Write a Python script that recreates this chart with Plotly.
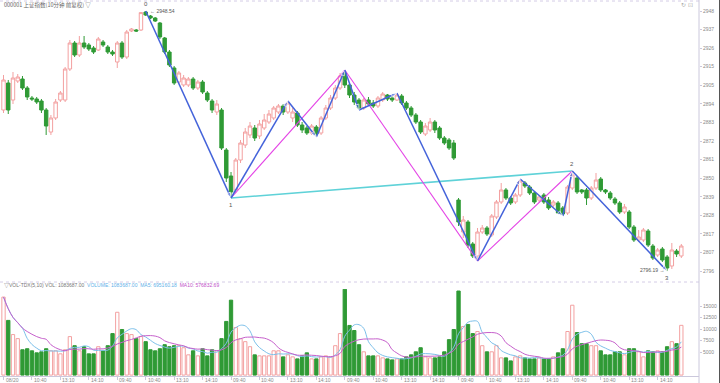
import plotly.graph_objects as go
import pandas as pd

title_text = "000001 上证指数(10分钟 前复权) ▽"

opens = [2890.54, 2906.36, 2896.40, 2907.53, 2908.70, 2903.43, 2897.57, 2896.99, 2895.81, 2890.54,
         2877.65, 2885.86, 2896.40, 2896.40, 2914.56, 2929.79, 2922.76, 2929.79, 2928.62, 2926.86,
         2925.69, 2930.38, 2927.45, 2924.52, 2918.66, 2929.79, 2921.59, 2936.82, 2937.41, 2937.41,
         2947.95, 2945.61, 2944.44, 2941.51, 2932.72, 2924.52, 2915.15, 2906.94, 2905.19, 2905.19,
         2908.70, 2903.43, 2906.94, 2900.50, 2895.81, 2889.37, 2890.54, 2867.11, 2851.88, 2843.68,
         2861.25, 2870.04, 2875.90, 2880.00, 2875.31, 2880.00, 2883.51, 2885.86, 2889.37, 2892.89,
         2889.37, 2885.86, 2888.78, 2881.75, 2880.00, 2877.07, 2880.58, 2877.07, 2885.86, 2891.71,
         2897.57, 2903.43, 2912.22, 2905.19, 2899.33, 2896.40, 2891.71, 2896.40, 2894.64, 2892.89,
         2896.40, 2899.33, 2897.57, 2896.40, 2898.74, 2894.64, 2891.71, 2887.61, 2883.51, 2876.48,
         2878.83, 2883.51, 2880.00, 2874.14, 2872.97, 2871.21, 2837.82, 2819.07, 2824.93, 2812.05,
         2805.02, 2819.07, 2821.42, 2817.32, 2827.86, 2836.65, 2843.68, 2838.99, 2836.65, 2840.75,
         2847.78, 2845.43, 2841.92, 2837.82, 2840.75, 2837.82, 2834.89, 2836.06, 2833.13, 2830.20,
         2844.85, 2850.71, 2843.68, 2843.68, 2838.99, 2844.85, 2850.12, 2843.68, 2841.92, 2838.41,
         2836.06, 2830.79, 2830.79, 2822.00, 2814.39, 2814.39, 2819.66, 2810.87, 2805.60, 2809.12,
         2804.43, 2799.16, 2807.94, 2805.02]

highs = [2911.05, 2908.12, 2912.80, 2911.63, 2910.46, 2904.60, 2898.74, 2898.16, 2896.99, 2891.71,
         2887.61, 2896.99, 2901.67, 2915.73, 2931.55, 2930.96, 2933.89, 2933.89, 2929.79, 2928.03,
         2933.31, 2931.55, 2928.62, 2925.69, 2930.96, 2930.96, 2937.41, 2938.58, 2937.99, 2947.95,
         2948.54, 2946.19, 2945.02, 2942.09, 2933.31, 2925.69, 2916.32, 2913.39, 2911.05, 2909.87,
         2909.87, 2908.12, 2908.12, 2901.67, 2896.99, 2896.40, 2891.71, 2868.28, 2854.22, 2862.42,
         2872.97, 2880.00, 2883.51, 2881.75, 2884.68, 2888.20, 2890.54, 2892.89, 2894.06, 2894.06,
         2895.81, 2891.71, 2889.96, 2883.51, 2881.17, 2882.34, 2881.75, 2887.03, 2893.47, 2899.33,
         2905.19, 2912.22, 2913.97, 2906.36, 2901.09, 2897.57, 2897.57, 2898.16, 2896.40, 2898.74,
         2901.09, 2899.92, 2898.74, 2900.50, 2899.92, 2895.81, 2892.89, 2888.78, 2884.68, 2882.93,
         2885.86, 2884.68, 2881.17, 2875.31, 2874.14, 2872.97, 2838.99, 2828.45, 2826.10, 2813.22,
         2821.42, 2823.17, 2822.59, 2829.62, 2837.82, 2847.78, 2844.85, 2840.16, 2841.92, 2850.12,
         2848.95, 2846.61, 2843.09, 2840.75, 2841.92, 2839.58, 2837.82, 2837.23, 2834.30, 2846.61,
         2854.81, 2851.88, 2844.26, 2844.85, 2846.02, 2853.64, 2851.29, 2844.26, 2843.09, 2839.58,
         2837.23, 2835.48, 2831.96, 2823.17, 2820.25, 2821.42, 2820.83, 2812.05, 2809.70, 2810.29,
         2805.60, 2812.63, 2809.12, 2812.05]

lows = [2888.78, 2888.20, 2894.06, 2906.36, 2902.26, 2896.40, 2895.81, 2894.06, 2888.78, 2875.90,
        2875.90, 2884.68, 2895.23, 2895.23, 2913.39, 2921.59, 2921.59, 2926.28, 2925.10, 2923.35,
        2925.10, 2927.45, 2923.35, 2922.18, 2915.15, 2920.42, 2920.42, 2936.23, 2936.23, 2936.82,
        2945.61, 2943.85, 2942.09, 2932.13, 2923.35, 2915.73, 2905.19, 2905.77, 2904.02, 2904.02,
        2902.26, 2902.26, 2899.92, 2895.23, 2888.78, 2887.61, 2867.11, 2848.36, 2838.99, 2841.92,
        2859.49, 2868.28, 2874.14, 2872.38, 2873.55, 2878.83, 2882.34, 2884.68, 2888.20, 2887.61,
        2888.20, 2883.51, 2880.58, 2877.07, 2875.90, 2875.90, 2874.72, 2875.90, 2884.68, 2890.54,
        2896.40, 2902.26, 2903.43, 2897.57, 2893.47, 2890.54, 2890.54, 2892.89, 2891.71, 2891.71,
        2895.23, 2895.81, 2895.23, 2895.81, 2893.47, 2890.54, 2886.44, 2882.34, 2876.48, 2875.31,
        2877.65, 2877.07, 2872.97, 2870.04, 2867.11, 2861.25, 2822.59, 2815.56, 2809.70, 2803.84,
        2802.09, 2817.90, 2816.73, 2816.15, 2826.69, 2835.48, 2837.82, 2834.89, 2835.48, 2839.58,
        2844.85, 2840.75, 2835.48, 2836.65, 2835.48, 2831.96, 2833.72, 2829.62, 2828.45, 2829.03,
        2843.68, 2841.33, 2841.33, 2834.89, 2837.82, 2843.68, 2842.51, 2841.33, 2837.82, 2834.89,
        2829.62, 2829.62, 2820.83, 2813.22, 2813.22, 2813.22, 2810.29, 2802.67, 2804.43, 2801.50,
        2796.19, 2797.40, 2804.43, 2803.84]

closes = [2908.12, 2890.54, 2909.29, 2909.87, 2903.43, 2898.16, 2896.99, 2895.23, 2890.54, 2881.17,
          2885.86, 2895.23, 2900.50, 2914.56, 2929.79, 2922.76, 2929.79, 2927.45, 2926.28, 2924.52,
          2932.13, 2928.62, 2924.52, 2923.35, 2929.79, 2921.59, 2936.23, 2937.99, 2936.82, 2947.60,
          2946.19, 2944.44, 2942.68, 2933.31, 2924.52, 2916.90, 2906.36, 2912.22, 2909.29, 2908.70,
          2903.43, 2906.94, 2901.09, 2896.40, 2890.54, 2894.06, 2868.28, 2850.71, 2842.51, 2861.25,
          2871.21, 2877.65, 2881.17, 2874.14, 2882.34, 2884.68, 2888.20, 2891.71, 2892.89, 2889.37,
          2894.64, 2889.37, 2881.75, 2878.83, 2877.07, 2881.17, 2876.48, 2885.86, 2891.71, 2897.57,
          2903.43, 2910.46, 2905.19, 2899.33, 2895.23, 2891.71, 2896.40, 2894.06, 2892.89, 2897.57,
          2899.92, 2896.99, 2896.40, 2899.33, 2894.64, 2891.71, 2887.61, 2883.51, 2877.65, 2881.17,
          2883.51, 2878.83, 2874.14, 2871.21, 2868.28, 2862.42, 2824.93, 2826.10, 2811.46, 2805.02,
          2819.07, 2821.42, 2817.90, 2828.45, 2836.65, 2843.68, 2838.99, 2836.06, 2840.75, 2848.95,
          2846.02, 2841.92, 2836.65, 2839.58, 2836.65, 2833.13, 2836.65, 2830.20, 2829.62, 2845.43,
          2852.46, 2842.51, 2842.51, 2838.99, 2844.85, 2849.54, 2843.68, 2842.51, 2838.99, 2836.06,
          2830.79, 2833.72, 2822.00, 2814.39, 2816.15, 2820.25, 2811.46, 2803.84, 2808.53, 2802.67,
          2797.99, 2808.53, 2806.19, 2810.87]

volumes = [16990, 11910, 8820, 7940, 5520, 5740, 5290, 4850, 5070, 5740,
           5290, 5290, 4630, 5520, 8380, 6400, 5290, 6180, 4630, 4630,
           6180, 5290, 6400, 9040, 13680, 9930, 9040, 8820, 7940, 8380,
           7280, 5520, 5290, 5740, 6620, 6180, 6400, 6400, 5960, 4410,
           5290, 4190, 5740, 4190, 5520, 5290, 7940, 11690, 16320, 10370,
           7940, 7280, 6180, 4410, 4190, 4190, 4190, 5290, 5290, 3970,
           4410, 3970, 3530, 4190, 4850, 3530, 3530, 3970, 4190, 3970,
           6400, 9040, 18700, 10810, 9710, 6620, 5070, 4190, 4190, 4190,
           3750, 3530, 3310, 3530, 3530, 3970, 4410, 5070, 5960, 3970,
           3750, 3750, 3970, 5070, 7720, 9930, 18310, 10590, 11030, 9040,
           9490, 6400, 5070, 5070, 6400, 3750, 3750, 3090, 3970, 4190,
           3750, 3530, 3530, 3750, 3530, 3530, 3970, 4850, 5740, 9490,
           15220, 9270, 6840, 6840, 6400, 6400, 5290, 4410, 4410, 5070,
           5070, 4410, 5740, 5740, 5070, 3970, 5290, 5070, 5290, 5070,
           6180, 7280, 6840, 10836.87]

price_tick_vals = [2948.54, 2937.66, 2926.78, 2915.89, 2905.01, 2894.13, 2883.25, 2872.37,
                   2861.48, 2850.60, 2839.72, 2828.84, 2817.96, 2807.07, 2796.19]
price_tick_text = ["2948", "2937", "2926", "2915", "2905", "2894", "2883", "2872",
                   "2861", "2850", "2839", "2828", "2817", "2807", "2796"]
vol_tick_vals = [5000, 7500, 10000, 12500, 15000]
vol_tick_text = ["5000", "7500", "10000", "12500", "15000"]

time_tick_bars = list(range(0, 144, 6))
time_tick_text = ["08/20", "10:40", "13:10", "14:10"] + ["09:40", "10:40", "13:10", "14:10"] * 5

# zigzag pivots (bar index, 'H' = uses high, 'L' = uses low)
pivot_kind = {30: "H", 48: "L", 60: "H", 66: "L", 72: "H", 75: "L", 83: "H",
              100: "L", 109: "H", 118: "L", 120: "H", 140: "L"}
blue_paths = [[30, 48], [48, 60, 66, 72], [72, 75, 83, 100], [100, 109, 118, 120], [120, 140]]
magenta_paths = [[48, 72], [72, 100], [100, 120]]
cyan_paths = [[48, 120]]
pivot_names = {30: "0", 48: "1", 120: "2", 140: "3"}

PINK = "#f3a0a0"
GREEN = "#2f9a35"
BLUE = "#4463da"
MAGENTA = "#e444e6"
CYAN = "#5fd2d8"
AXIS = "#cbc8dc"
TXT = "#8a8a8a"
FONT = "Liberation Sans, Noto Sans CJK SC, sans-serif"

n = len(opens)
xs = list(range(n))
up = [c >= o for o, c in zip(opens, closes)]


def piv(b):
    return highs[b] if pivot_kind[b] == "H" else lows[b]


fig = go.Figure()
fig.add_trace(go.Candlestick(
    x=xs, open=opens, high=highs, low=lows, close=closes,
    increasing=dict(line=dict(color=PINK, width=1), fillcolor="#ffffff"),
    decreasing=dict(line=dict(color=GREEN, width=1), fillcolor=GREEN),
    whiskerwidth=0, xaxis="x", yaxis="y", hoverinfo="skip"))

for path in cyan_paths:
    fig.add_trace(go.Scatter(x=path, y=[piv(b) for b in path], mode="lines",
                             line=dict(color=CYAN, width=1.6), xaxis="x", yaxis="y", hoverinfo="skip"))
for path in magenta_paths:
    fig.add_trace(go.Scatter(x=path, y=[piv(b) for b in path], mode="lines",
                             line=dict(color=MAGENTA, width=1.1), xaxis="x", yaxis="y", hoverinfo="skip"))
for path in blue_paths:
    fig.add_trace(go.Scatter(
        x=path, y=[piv(b) for b in path], mode="lines+markers",
        line=dict(color=BLUE, width=1.5),
        marker=dict(symbol=["circle"] + ["arrow"] * (len(path) - 1),
                    size=[0] + [6] * (len(path) - 1), angleref="previous", color=BLUE),
        xaxis="x", yaxis="y", hoverinfo="skip"))

# volume
fig.add_trace(go.Bar(
    x=xs, y=volumes, width=0.7,
    marker=dict(color=["#ffffff" if u else GREEN for u in up],
                line=dict(color=[PINK if u else GREEN for u in up], width=1)),
    xaxis="x", yaxis="y2", hoverinfo="skip"))
vs = pd.Series(volumes)
ma5 = vs.rolling(5, min_periods=1).mean()
ma10 = vs.rolling(10, min_periods=1).mean()
fig.add_trace(go.Scatter(x=xs, y=ma5, mode="lines", line=dict(color="#7cc0ea", width=1, shape="spline"),
                         xaxis="x", yaxis="y2", hoverinfo="skip"))
fig.add_trace(go.Scatter(x=xs, y=ma10, mode="lines", line=dict(color="#c660cc", width=1, shape="spline"),
                         xaxis="x", yaxis="y2", hoverinfo="skip"))

W, H = 699.0, 376.0  # plot area size in px


def py(p):  # pixel-from-top -> paper y
    return (H - p) / H


annotations = []
for b, t in zip(time_tick_bars, time_tick_text):
    annotations.append(dict(x=b, xref="x", y=py(379.5), yref="paper", text=t, showarrow=False,
                            xanchor="left", yanchor="middle", xshift=0,
                            font=dict(size=5, color=TXT, family=FONT)))

annotations.append(dict(x=2 / W, y=py(5), xref="paper", yref="paper", text=title_text, showarrow=False,
                        xanchor="left", yanchor="middle",
                        font=dict(size=5.5, color="#666666", family="Noto Sans CJK SC")))
annotations.append(dict(x=695 / W, y=py(4.5), xref="paper", yref="paper", text="↻ ⊡", showarrow=False,
                        xanchor="right", yanchor="middle", font=dict(size=6, color="#aaaaaa", family="DejaVu Sans")))
annotations.append(dict(
    x=2 / W, y=py(285), xref="paper", yref="paper", showarrow=False, xanchor="left", yanchor="middle",
    text=("<span style='color:#777777'>▽VOL-TDX(5,10) VOL: 1083687.00</span>  "
          "<span style='color:#5fb0e8'>VOLUME: 1083687.00  MA5: 695160.18</span>  "
          "<span style='color:#c050c8'>MA10: 576832.69</span>"),
    font=dict(size=5, family=FONT)))

for b, name in pivot_names.items():
    shift = 7 if pivot_kind[b] == "H" else -7
    annotations.append(dict(x=b, y=piv(b), xref="x", yref="y", text=name, showarrow=False,
                            yshift=shift, font=dict(size=6, color="#555555", family=FONT)))
annotations.append(dict(x=30, y=highs[30], xref="x", yref="y", text="← 2948.54", showarrow=False,
                        xanchor="left", xshift=2, font=dict(size=5, color="#555555", family=FONT)))
annotations.append(dict(x=140, y=lows[140], xref="x", yref="y", text="2796.19 →", showarrow=False,
                        xanchor="right", xshift=-1, yshift=1, font=dict(size=5, color="#555555", family=FONT)))

shapes = [
    dict(type="line", xref="paper", yref="paper", x0=0, x1=1, y0=py(1), y1=py(1),
         line=dict(color="#d4cce6", width=1, dash="dot")),
    dict(type="line", xref="paper", yref="paper", x0=0, x1=1, y0=py(282), y1=py(282),
         line=dict(color="#d4cce6", width=1, dash="dot")),
    dict(type="line", xref="paper", yref="paper", x0=1, x1=1, y0=py(383), y1=py(0),
         line=dict(color=AXIS, width=1)),
    dict(type="line", xref="paper", yref="paper", x0=719.5 / W, x1=719.5 / W, y0=py(383), y1=py(0),
         line=dict(color="#555555", width=1)),
]

fig.update_layout(
    width=720, height=383, margin=dict(l=0, r=21, t=0, b=7),
    paper_bgcolor="white", plot_bgcolor="white", showlegend=False,
    boxgap=0.15, boxgroupgap=0.15,
    xaxis=dict(domain=[0, 1], range=[-0.74, 146.73], anchor="y2", showgrid=False, zeroline=False,
               showline=True, linecolor=AXIS, linewidth=1, tickvals=time_tick_bars, ticks="outside",
               ticklen=3, tickcolor=AXIS, showticklabels=False, rangeslider=dict(visible=False),
               fixedrange=True),
    yaxis=dict(domain=[py(282), py(2)], range=[2789.78, 2953.81], side="right", anchor="x",
               showline=False, ticks="outside", ticklen=2, tickcolor=AXIS,
               tickvals=price_tick_vals, ticktext=price_tick_text,
               tickfont=dict(size=5, color=TXT, family=FONT), showgrid=False, zeroline=False),
    yaxis2=dict(domain=[0, py(289)], range=[-200, 18750], side="right", anchor="x",
                showline=False, ticks="outside", ticklen=2, tickcolor=AXIS,
                tickvals=vol_tick_vals, ticktext=vol_tick_text,
                tickfont=dict(size=5, color=TXT, family=FONT), showgrid=False, zeroline=False),
    annotations=annotations, shapes=shapes,
)

fig.write_html("out.html", config={"displayModeBar": False, "staticPlot": True},
               post_script="document.body.style.margin='0';document.body.style.overflow='hidden';")
